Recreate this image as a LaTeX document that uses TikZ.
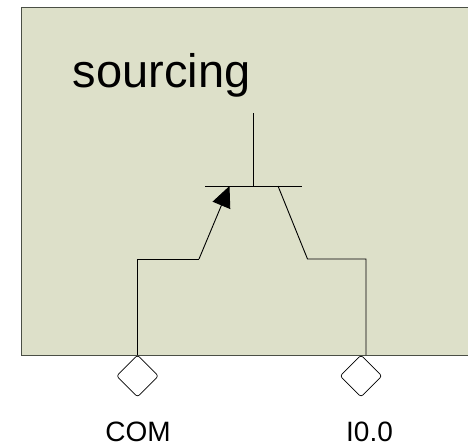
\documentclass[tikz,border=0pt]{standalone}
\usepackage{fontspec}
\setmainfont{Liberation Sans}
\usetikzlibrary{shapes.geometric,arrows.meta}
\definecolor{panelfill}{HTML}{DDE0C9}
\definecolor{paneledge}{HTML}{4A4F45}
\tikzset{
  wire/.style={draw=black,line width=0.9pt,line join=miter},
  pin/.style={shape=diamond,draw=black,fill=white,line width=0.7pt,inner sep=0pt,minimum width=42pt,minimum height=42pt,rounded corners=2.5pt},
  biglabel/.style={anchor=base,inner sep=0pt,font=\fontsize{47}{47}\selectfont},
  pinlabel/.style={anchor=base,inner sep=0pt,text depth=0pt,font=\fontsize{28}{28}\selectfont}
}
\begin{document}
\begin{tikzpicture}[x=1pt,y=-1pt]
\useasboundingbox (0,0) rectangle (468,445);
\fill[white] (0,0) rectangle (468,445);
\draw[fill=panelfill,draw=paneledge,line width=1pt] (468,7) -- (21,7) -- (21,355.5) -- (468,355.5);
\node[biglabel] (title) at (161.5,87) {sourcing};
\coordinate (gatetop) at (253.5,113);
\coordinate (gatefoot) at (253.5,186);
\coordinate (barleft) at (205,186);
\coordinate (barright) at (302,186);
\coordinate (emit) at (229.5,186);
\coordinate (coll) at (278,186);
\coordinate (lknee) at (199,259);
\coordinate (ltop) at (137.5,259);
\coordinate (lfoot) at (137.5,355);
\coordinate (rknee) at (307.5,259);
\coordinate (rtop) at (366,259);
\coordinate (rfoot) at (366,355);
\draw[wire] (gatetop) -- (gatefoot);
\draw[wire] (barleft) -- (barright);
\draw[wire] (lfoot) -- (ltop) -- (lknee);
\draw[wire,-{Triangle[length=21pt,width=19pt]}] (lknee) -- (emit);
\draw[wire] (coll) -- (rknee) -- (rtop) -- (rfoot);
\node[pin] (com) at (137.5,376) {};
\node[pin] (izero) at (361,376) {};
\node[pinlabel] (comlabel) at (138,441.5) {COM};
\node[pinlabel] (izerolabel) at (369.5,441.5) {I0.0};
\end{tikzpicture}
\end{document}
